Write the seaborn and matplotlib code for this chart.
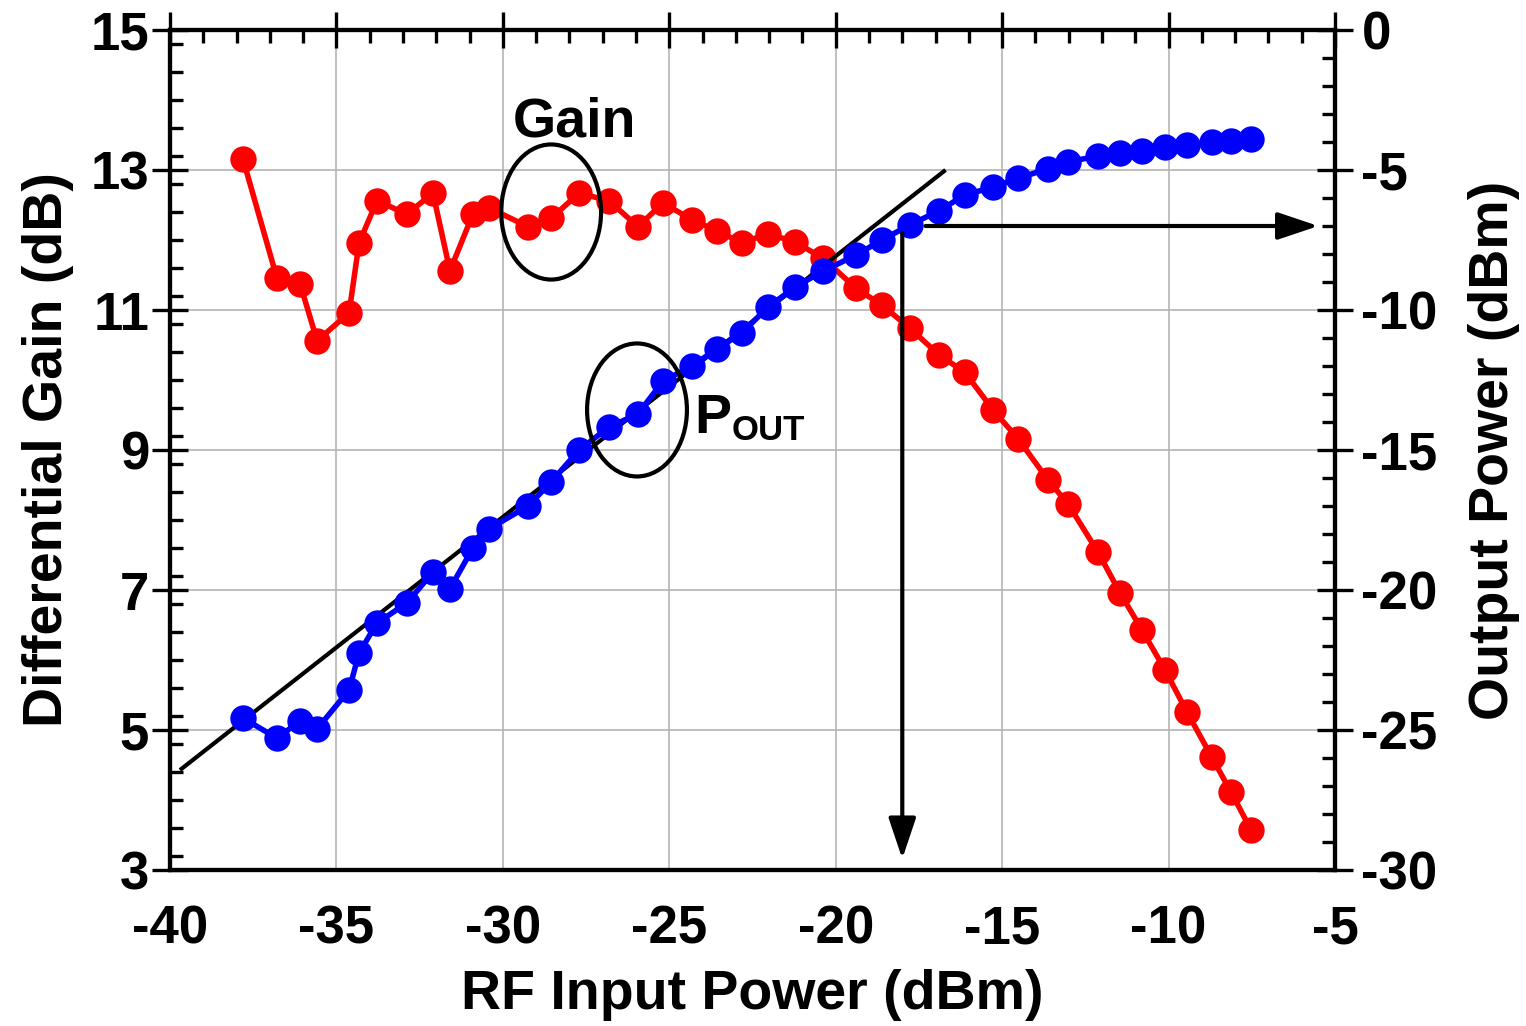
import matplotlib
matplotlib.use("Agg")
import matplotlib.pyplot as plt
from matplotlib.patches import Ellipse
from matplotlib.ticker import MultipleLocator
import seaborn as sns
import pandas as pd

# ---------------- data ----------------
pin = [-37.81, -36.79, -36.09, -35.58, -34.62, -34.32, -33.78, -32.88, -32.10, -31.59,
       -30.90, -30.42, -29.24, -28.55, -27.71, -26.81, -25.94, -25.19, -24.32, -23.57,
       -22.82, -22.03, -21.22, -20.38, -19.39, -18.61, -17.77, -16.90, -16.12, -15.27,
       -14.52, -13.62, -13.02, -12.12, -11.46, -10.80, -10.11, -9.45, -8.70, -8.12, -7.52]
gain = [13.16, 11.46, 11.37, 10.56, 10.96, 11.96, 12.56, 12.37, 12.67, 11.56,
        12.37, 12.46, 12.19, 12.31, 12.67, 12.56, 12.19, 12.53, 12.29, 12.13,
        11.96, 12.09, 11.97, 11.74, 11.31, 11.07, 10.74, 10.36, 10.11, 9.57,
        9.16, 8.57, 8.23, 7.54, 6.96, 6.43, 5.86, 5.26, 4.61, 4.11, 3.57]
pout = [-24.57, -25.29, -24.68, -24.96, -23.57, -22.25, -21.18, -20.46, -19.36, -19.96,
        -18.50, -17.82, -17.00, -16.14, -15.00, -14.18, -13.71, -12.54, -12.00, -11.39,
        -10.82, -9.89, -9.18, -8.61, -8.04, -7.50, -6.96, -6.46, -5.89, -5.61,
        -5.29, -4.96, -4.71, -4.50, -4.39, -4.32, -4.18, -4.11, -4.00, -3.96, -3.89]

# linear reference line (Pin, Pout)
lin_x = [-39.7, -16.7]
lin_y = [-26.43, -5.0]

# P1dB marker
p1db_in = -18.0
p1db_out = -7.0

x_ticks = [-40, -35, -30, -25, -20, -15, -10, -5]
gain_ticks = [3, 5, 7, 9, 11, 13, 15]
pout_ticks = [-30, -25, -20, -15, -10, -5, 0]

df = pd.DataFrame({"pin": pin, "gain": gain, "pout": pout})

# ---------------- style ----------------
sns.set_style("white")
plt.rcParams["font.family"] = ["Liberation Sans", "DejaVu Sans"]
plt.rcParams["font.weight"] = "bold"
plt.rcParams["axes.unicode_minus"] = False
plt.rcParams["text.color"] = "black"
plt.rcParams["axes.labelcolor"] = "black"
plt.rcParams["xtick.color"] = "black"
plt.rcParams["ytick.color"] = "black"
plt.rcParams["xtick.labelcolor"] = "black"
plt.rcParams["ytick.labelcolor"] = "black"

fig = plt.figure(figsize=(15.26, 10.26), dpi=100)
ax = fig.add_axes([170 / 1526, 1 - 870 / 1026, (1335 - 170) / 1526, 840 / 1026])
ax2 = ax.twinx()

RED = "#ff0000"
BLUE = "#0000ff"
MS = 19
LW = 4

sns.lineplot(data=df, x="pin", y="gain", ax=ax, color=RED, marker="o",
             markersize=MS, markeredgewidth=0, linewidth=LW, zorder=3)
ax2.plot(lin_x, lin_y, color="black", lw=3, zorder=2, solid_capstyle="butt")
sns.lineplot(data=df, x="pin", y="pout", ax=ax2, color=BLUE, marker="o",
             markersize=MS, markeredgewidth=0, linewidth=LW, zorder=3)

# axes limits & ticks
ax.set_xlim(-40, -5)
ax.set_ylim(3, 15)
ax2.set_ylim(-30, 0)
ax.set_xticks(x_ticks)
ax.set_yticks(gain_ticks)
ax2.set_yticks(pout_ticks)
ax.xaxis.set_minor_locator(MultipleLocator(1))
ax.yaxis.set_minor_locator(MultipleLocator(0.4))
ax2.yaxis.set_minor_locator(MultipleLocator(1))

ax.grid(True, which="major", color="#b4b4b4", lw=1.2)
ax2.grid(False)
ax.set_axisbelow(True)

for a in (ax, ax2):
    for s in a.spines.values():
        s.set_linewidth(3)
        s.set_color("black")

ax.tick_params(axis="both", which="major", direction="inout", length=26, width=2.4,
               labelsize=38, top=True, right=False, color="black", labelcolor="black")
ax.tick_params(axis="both", which="minor", direction="in", length=9.5, width=2.4,
               top=True, right=False, color="black")
ax.tick_params(axis="x", which="major", pad=12)
ax.tick_params(axis="y", which="major", pad=2)
ax2.tick_params(axis="y", which="major", direction="inout", length=26, width=2.4,
                labelsize=38, pad=6, color="black", labelcolor="black")
ax2.tick_params(axis="y", which="minor", direction="in", length=9.5, width=2.4, color="black")

for lab in ax.get_xticklabels() + ax.get_yticklabels() + ax2.get_yticklabels():
    lab.set_fontweight("bold")

ax.set_xlabel("RF Input Power (dBm)", fontsize=40, fontweight="bold", labelpad=10, color="black")
ax.set_ylabel("Differential Gain (dB)", fontsize=40, fontweight="bold", labelpad=12, color="black")
ax2.set_ylabel("Output Power (dBm)", fontsize=40, fontweight="bold", labelpad=22,
               rotation=90, color="black")

# annotations: ellipses
ax.add_patch(Ellipse((-28.55, 12.4), 3.0, 1.93, fill=False, ec="black", lw=3, zorder=4))
ax2.add_patch(Ellipse((-25.97, -13.57), 3.0, 4.75, fill=False, ec="black", lw=3, zorder=4))

ax.text(-27.85, 13.48, "Gain", fontsize=40, fontweight="bold", ha="center",
        va="baseline", color="black")
ax2.text(-24.25, -14.4, "P", fontsize=40, fontweight="bold", ha="left",
         va="baseline", color="black")
ax2.text(-23.12, -14.65, "OUT", fontsize=25, fontweight="bold", ha="left",
         va="baseline", color="black")

# arrows for P1dB
arrow_kw = dict(arrowstyle="-|>,head_length=1.25,head_width=0.42", color="black",
                lw=3, mutation_scale=20, shrinkA=0, shrinkB=0)
ax2.annotate("", xy=(-5.5, p1db_out), xytext=(-17.3, p1db_out), arrowprops=arrow_kw, zorder=5)
ax2.annotate("", xy=(p1db_in, -29.6), xytext=(p1db_in, -7.25), arrowprops=arrow_kw, zorder=5)

fig.savefig("out.png", dpi=100)
